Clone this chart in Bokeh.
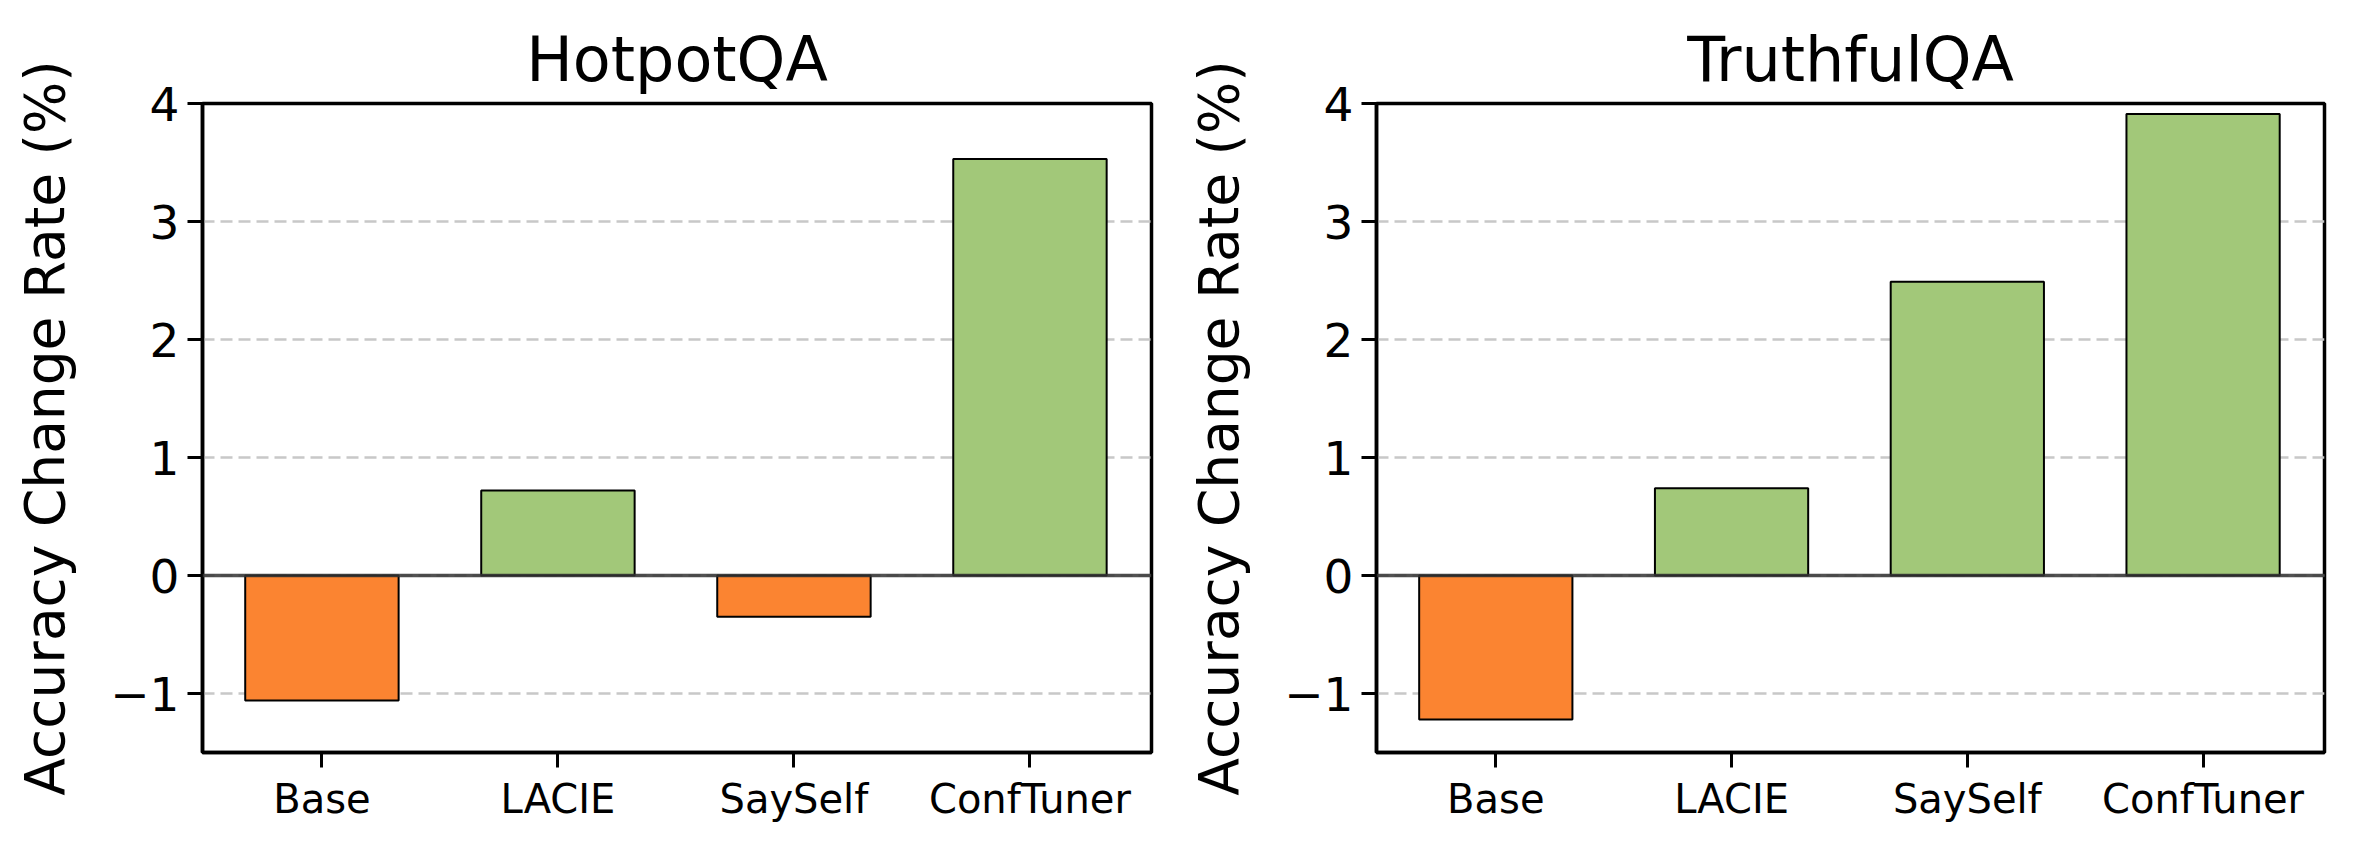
from bokeh.plotting import figure
from bokeh.layouts import row
from bokeh.models import Span, FixedTicker, ColumnDataSource
from bokeh.embed import file_html
from bokeh.resources import INLINE

methods = ["Base", "LACIE", "SaySelf", "ConfTuner"]
titles = ["HotpotQA", "TruthfulQA"]
hotpot_values = [-1.06, 0.72, -0.35, 3.53]
truthful_values = [-1.22, 0.74, 2.49, 3.91]
y_ticks = [-1, 0, 1, 2, 3, 4]
y_label = "Accuracy Change Rate (%)"

NEG = "#fb8431"
POS = "#a2c879"
FONT = "DejaVu Sans"


def make(title, vals, frame_w, border_left, border_right):
    xs = list(range(len(methods)))
    src = ColumnDataSource(dict(
        x=xs, top=vals,
        color=[NEG if v < 0 else POS for v in vals],
    ))
    p = figure(frame_width=frame_w, frame_height=649,
               x_range=(-0.506, 3.515), y_range=(-1.5, 4),
               output_backend="svg", toolbar_location=None,
               min_border_left=border_left, min_border_right=border_right,
               min_border_top=103, min_border_bottom=82)
    p.vbar(x="x", top="top", bottom=0, width=0.65, source=src,
           fill_color="color", line_color="black", line_width=2)
    p.add_layout(Span(location=0, dimension="width", line_color="#333333",
                      line_alpha=0.85, line_width=3.5))

    p.title.text = title
    p.title.text_font = FONT
    p.title.text_font_size = "62px"
    p.title.text_font_style = "normal"
    p.title.text_color = "black"
    p.title.align = "center"
    p.title.standoff = 16

    p.outline_line_color = "black"
    p.outline_line_width = 3.5
    p.outline_line_alpha = 1

    p.xgrid.visible = False
    p.ygrid.grid_line_color = "#c8c8c8"
    p.ygrid.grid_line_width = 2.5
    p.ygrid.grid_line_dash = "12 6"
    p.ygrid.ticker = FixedTicker(ticks=y_ticks)

    p.yaxis.ticker = FixedTicker(ticks=y_ticks)
    p.yaxis.major_label_overrides = {t: (str(t) if t >= 0 else "\u2212" + str(-t)) for t in y_ticks}
    p.xaxis.ticker = FixedTicker(ticks=xs)
    p.xaxis.major_label_overrides = {i: m for i, m in enumerate(methods)}

    for ax in (p.xaxis, p.yaxis):
        ax.axis_line_color = "black"
        ax.axis_line_width = 3.5
        ax.major_tick_line_color = "black"
        ax.major_tick_line_width = 3
        ax.major_tick_out = 15
        ax.major_tick_in = 0
        ax.minor_tick_line_color = None
        ax.major_label_text_color = "black"
        ax.major_label_text_font = FONT
    p.yaxis.major_label_text_font_size = "47px"
    p.xaxis.major_label_text_font_size = "40px"
    p.yaxis.major_label_standoff = 8
    p.xaxis.major_label_standoff = 8

    p.yaxis.axis_label = y_label
    p.yaxis.axis_label_text_font = FONT
    p.yaxis.axis_label_text_font_size = "55px"
    p.yaxis.axis_label_text_font_style = "normal"
    p.yaxis.axis_label_text_color = "black"
    p.yaxis.axis_label_standoff = 30
    return p


p1 = make(titles[0], hotpot_values, 949, 202, 31)
p2 = make(titles[1], truthful_values, 948, 194, 21)
layout = row(p1, p2)

open("out.html", "w").write(file_html(layout, INLINE))
